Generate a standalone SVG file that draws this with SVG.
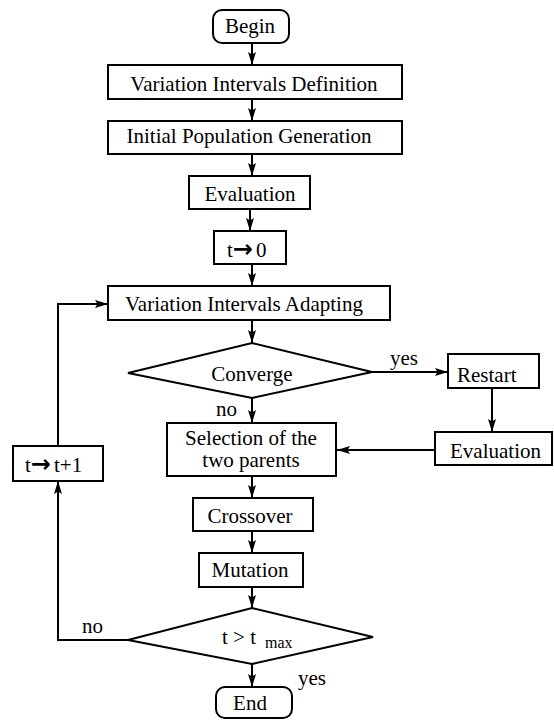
<svg xmlns="http://www.w3.org/2000/svg" width="554" height="720" viewBox="0 0 554 720">
<defs>
<style>
.box{fill:#fff;stroke:#000;stroke-width:2}
.ln{fill:none;stroke:#000;stroke-width:2}
text{font-family:'Liberation Serif','DejaVu Serif',serif;font-size:21px;fill:#000}
.c{text-anchor:middle}
.sub{font-size:16px}
.ar{font-family:'DejaVu Sans',sans-serif;font-weight:bold;font-size:24px}
</style>
<marker id="ah" markerWidth="13" markerHeight="8" refX="13" refY="4" orient="auto" markerUnits="userSpaceOnUse">
<path d="M0,0 L13,4 L0,8 L2.5,4 z" fill="#000"/>
</marker>
</defs>
<rect width="554" height="720" fill="#fff"/>
<g id="connectors">
<line class="ln" x1="252" y1="43" x2="252" y2="65" marker-end="url(#ah)"/>
<line class="ln" x1="252" y1="99" x2="252" y2="121" marker-end="url(#ah)"/>
<line class="ln" x1="252" y1="154" x2="252" y2="176" marker-end="url(#ah)"/>
<line class="ln" x1="250" y1="209" x2="250" y2="231" marker-end="url(#ah)"/>
<line class="ln" x1="252" y1="264" x2="252" y2="286" marker-end="url(#ah)"/>
<line class="ln" x1="252" y1="320" x2="252" y2="343" marker-end="url(#ah)"/>
<line class="ln" x1="372" y1="372" x2="448" y2="372" marker-end="url(#ah)"/>
<line class="ln" x1="492" y1="388" x2="492" y2="432" marker-end="url(#ah)"/>
<line class="ln" x1="435" y1="450" x2="337" y2="450" marker-end="url(#ah)"/>
<line class="ln" x1="252" y1="398" x2="252" y2="423" marker-end="url(#ah)"/>
<line class="ln" x1="252" y1="476" x2="252" y2="498" marker-end="url(#ah)"/>
<line class="ln" x1="252" y1="531" x2="252" y2="553" marker-end="url(#ah)"/>
<line class="ln" x1="252" y1="587" x2="252" y2="608" marker-end="url(#ah)"/>
<line class="ln" x1="252" y1="664" x2="252" y2="687" marker-end="url(#ah)"/>
<polyline class="ln" points="128,640 58,640 58,481" marker-end="url(#ah)"/>
<polyline class="ln" points="58,446 58,304 108,304" marker-end="url(#ah)"/>
<text x="390" y="365">yes</text>
<text x="216" y="416">no</text>
<text x="82" y="633">no</text>
<text x="298" y="685">yes</text>
</g>
<g id="begin">
<rect class="box" x="213" y="10" width="76" height="33" rx="9"/>
<text class="c" x="250" y="33">Begin</text>
</g>
<g id="vid">
<rect class="box" x="108" y="65" width="294" height="34"/>
<text class="c" x="254" y="91">Variation Intervals Definition</text>
</g>
<g id="ipg">
<rect class="box" x="108" y="121" width="294" height="33"/>
<text class="c" x="249" y="143">Initial Population Generation</text>
</g>
<g id="eval1">
<rect class="box" x="189" y="176" width="121" height="33"/>
<text class="c" x="250" y="201">Evaluation</text>
</g>
<g id="t0">
<rect class="box" x="214" y="231" width="72" height="33"/>
<text x="227" y="257">t<tspan class="ar">→</tspan><tspan dx="3">0</tspan></text>
</g>
<g id="via">
<rect class="box" x="108" y="286" width="282" height="34"/>
<text class="c" x="244" y="311">Variation Intervals Adapting</text>
</g>
<g id="converge">
<polygon class="box" points="252,343 372,372 252,398 128,373"/>
<text class="c" x="252" y="381">Converge</text>
</g>
<g id="restart">
<rect class="box" x="448" y="354" width="91" height="34"/>
<text x="457" y="382">Restart</text>
</g>
<g id="eval2">
<rect class="box" x="435" y="432" width="117" height="33"/>
<text x="450" y="458">Evaluation</text>
</g>
<g id="selection">
<rect class="box" x="167" y="423" width="169" height="53"/>
<text class="c" x="251" y="445">Selection of the</text>
<text class="c" x="251" y="467">two parents</text>
</g>
<g id="tinc">
<rect class="box" x="13" y="446" width="90" height="35"/>
<text x="25" y="472">t<tspan class="ar">→</tspan><tspan dx="3">t+1</tspan></text>
</g>
<g id="crossover">
<rect class="box" x="193" y="498" width="120" height="33"/>
<text class="c" x="250" y="523">Crossover</text>
</g>
<g id="mutation">
<rect class="box" x="199" y="553" width="104" height="34"/>
<text class="c" x="250" y="577">Mutation</text>
</g>
<g id="tmax">
<polygon class="box" points="252,608 373,637 252,664 128,640"/>
<text x="222" y="644">t &gt; t <tspan class="sub" x="265" y="648">max</tspan></text>
</g>
<g id="end">
<rect class="box" x="216" y="687" width="76" height="31" rx="9"/>
<text class="c" x="250" y="710">End</text>
</g>
</svg>
